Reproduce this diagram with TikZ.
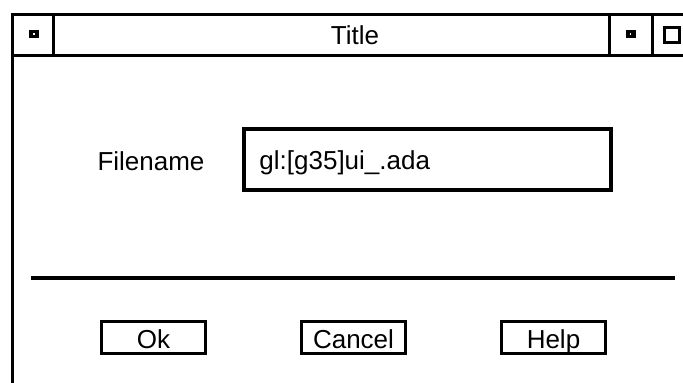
\documentclass[tikz,border=0pt]{standalone}
\usepackage{fontspec}
\setmainfont{Liberation Sans}
\begin{document}
\begin{tikzpicture}[x=1pt,y=-1pt,
   frame/.style={line width=3pt},
   caption/.style={font=\fontsize{26}{30}\selectfont,inner sep=0pt,
                   text height=18.7pt,text depth=0pt},
   button/.style={draw,line width=3.5pt,minimum width=104pt,minimum height=32pt,
                  inner sep=0pt,font=\fontsize{26}{30}\selectfont,
                  text height=22.7pt,text depth=0pt},
   icon/.style={fill=black,minimum width=10pt,minimum height=8pt,inner sep=0pt},
   dot/.style={fill=white,minimum size=1.5pt,inner sep=0pt}]
\useasboundingbox (0,0) rectangle (683,383);

% window frame and title bar
\draw[frame] (683,14) -| (12.5,383);
\draw[frame] (12.5,55) -- (683,55);
\draw[frame] (53.5,14) -- (53.5,55);
\draw[frame] (609,14) -- (609,55);
\draw[frame] (652,14) -- (652,55);

\node[icon] (menu) at (34,34) {};
\node[dot] at (menu.center) {};
\node[caption] (title) at (355,35) {Title};
\node[icon] (minbox) at (630.5,34) {};
\node[dot] at (minbox.center) {};
\node[draw,line width=3pt,minimum size=15pt,inner sep=0pt] (maxbox) at (672,35) {};

% filename field
\node[caption] (filename) at (151,161) {Filename};
\node[draw,line width=3.5pt,minimum width=367pt,minimum height=61pt,inner sep=0pt]
   (field) at (427.5,159.5) {};
\node[caption,anchor=west] (fieldtext) at ([xshift=17pt,yshift=-1pt]field.west) {gl:[g35]ui\_.ada};

% separator
\coordinate (sepleft) at (31,278);
\coordinate (sepright) at (675,278);
\draw[line width=4pt] (sepleft) -- (sepright);

% buttons
\node[button] (ok) at (153.5,337.5) {Ok};
\node[button] (cancel) at (353.5,337.5) {Cancel};
\node[button] (help) at (553.5,337.5) {Help};

\end{tikzpicture}
\end{document}
